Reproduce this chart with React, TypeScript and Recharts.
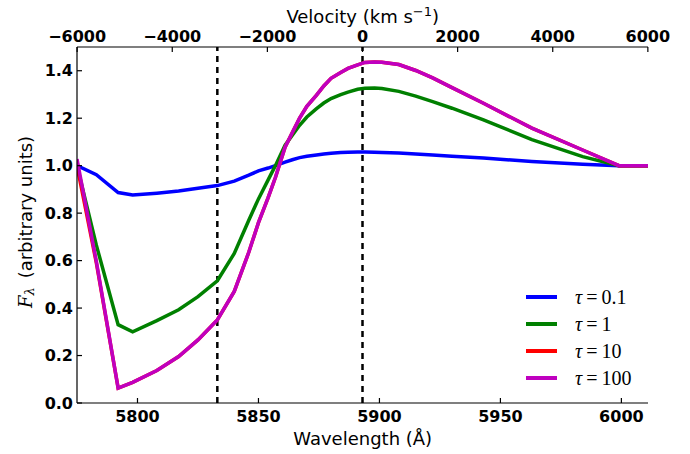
import React from 'react';
import { LineChart, Line, XAxis, YAxis, ReferenceLine, Legend } from 'recharts';

// Wavelength grid (Angstrom)
const wavelength = [5775, 5783, 5792, 5798, 5808, 5817, 5825, 5833, 5840, 5846, 5850, 5854, 5857, 5861, 5864, 5867, 5870, 5874, 5877, 5880, 5884, 5887, 5891, 5894, 5898, 5901, 5908, 5915, 5922, 5930, 5943, 5963, 5984, 5999, 6011];
// Flux for each optical depth
const fluxTau01 = [1.0, 0.962, 0.887, 0.876, 0.884, 0.893, 0.905, 0.916, 0.935, 0.96, 0.978, 0.99, 1.0, 1.015, 1.025, 1.034, 1.04, 1.045, 1.049, 1.052, 1.055, 1.057, 1.058, 1.058, 1.057, 1.056, 1.053, 1.049, 1.045, 1.04, 1.032, 1.018, 1.006, 1.0, 1.0];
const fluxTau1 = [1.0, 0.665, 0.33, 0.3, 0.347, 0.393, 0.448, 0.515, 0.63, 0.77, 0.86, 0.94, 1.0, 1.086, 1.128, 1.17, 1.205, 1.24, 1.264, 1.283, 1.299, 1.31, 1.322, 1.326, 1.327, 1.325, 1.313, 1.293, 1.27, 1.242, 1.193, 1.11, 1.038, 1.0, 1.0];
const fluxTau10 = [1.0, 0.59, 0.063, 0.087, 0.137, 0.196, 0.266, 0.35, 0.47, 0.635, 0.76, 0.865, 0.95, 1.078, 1.14, 1.2, 1.25, 1.297, 1.336, 1.368, 1.393, 1.41, 1.425, 1.435, 1.437, 1.436, 1.426, 1.401, 1.37, 1.329, 1.263, 1.158, 1.066, 1.0, 1.0];
const fluxTau100 = [1.028, 0.597, 0.063, 0.087, 0.137, 0.196, 0.266, 0.35, 0.47, 0.635, 0.76, 0.865, 0.95, 1.078, 1.14, 1.2, 1.25, 1.297, 1.336, 1.368, 1.393, 1.41, 1.425, 1.435, 1.437, 1.436, 1.426, 1.401, 1.37, 1.329, 1.263, 1.158, 1.066, 1.0, 1.0];

const seriesKeys = ['t01', 't1', 't10', 't100'];
const seriesLabels = ['0.1', '1', '10', '100'];
const seriesColors = ['#0000ff', '#008000', '#ff0000', '#bf00bf'];

const wavelengthTicks = [5800, 5850, 5900, 5950, 6000];
const velocityTicks = [-6000, -4000, -2000, 0, 2000, 4000, 6000];
const fluxTicks = [0, 0.2, 0.4, 0.6, 0.8, 1.0, 1.2, 1.4];
const markerWavelengths = [5833, 5893];
const restWavelength = 5893; // Na I D rest wavelength (A)
const SPEED_OF_LIGHT = 299792.458; // km/s

// top-axis tick positions: velocity -> wavelength (axis conversion only)
const velocityTickPositions = velocityTicks.map((v) => restWavelength * (1 + v / SPEED_OF_LIGHT));

const rows = wavelength.map((w, i) => ({
  w,
  t01: fluxTau01[i],
  t1: fluxTau1[i],
  t10: fluxTau10[i],
  t100: fluxTau100[i],
}));

const FONT = '"DejaVu Sans", sans-serif';
const TL = 5;
const AX = '#000';

const BottomTick = (props: any) => {
  const { x, y, payload } = props;
  const ay = y - 7;
  return (
    <g>
      <line x1={x} x2={x} y1={ay} y2={ay - TL} stroke={AX} strokeWidth={1.2} />
      <text x={x} y={y} dy="0.72em" textAnchor="middle" fontFamily={FONT} fontWeight="bold" fontSize={16} fill="#000">
        {payload.value}
      </text>
    </g>
  );
};

const TopTick = (props: any) => {
  const { x, y, payload } = props;
  const ay = y + 5;
  const v = Math.round(((payload.value / restWavelength - 1) * SPEED_OF_LIGHT) / 1000) * 1000;
  const label = v < 0 ? '\u2212' + Math.abs(v) : String(v);
  return (
    <g>
      <line x1={x} x2={x} y1={ay} y2={ay + TL} stroke={AX} strokeWidth={1.2} />
      <text x={x} y={y} textAnchor="middle" fontFamily={FONT} fontWeight="bold" fontSize={16} fill="#000">
        {label}
      </text>
    </g>
  );
};

const LeftTick = (props: any) => {
  const { x, y, payload } = props;
  const ax = x + 4;
  return (
    <g>
      <line x1={ax} x2={ax + TL} y1={y} y2={y} stroke={AX} strokeWidth={1.2} />
      <text x={x} y={y} dy="0.36em" textAnchor="end" fontFamily={FONT} fontWeight="bold" fontSize={16} fill="#000">
        {Number(payload.value).toFixed(1)}
      </text>
    </g>
  );
};

const RightTick = (props: any) => {
  const { x, y } = props;
  return <line x1={x} x2={x - TL} y1={y} y2={y} stroke={AX} strokeWidth={1.2} />;
};

const renderLegend = () => (
  <div style={{ display: 'flex', flexDirection: 'column' }}>
    {seriesLabels.map((lab, i) => (
      <div key={lab} style={{ display: 'flex', alignItems: 'center', height: 27.2 }}>
        <span style={{ display: 'inline-block', width: 31, height: 4, background: seriesColors[i], marginLeft: 4 }} />
        <span style={{ marginLeft: 18, fontFamily: '"Liberation Serif", serif', fontSize: 20, color: '#000', lineHeight: '20px' }}>
          <i>τ</i>{'\u2009=\u2009'}{lab}
        </span>
      </div>
    ))}
  </div>
);

export default function App() {
  return (
    <div style={{ position: 'absolute', left: 0, top: 0, width: 690, height: 454, background: '#fff' }}>
      <LineChart width={690} height={454} data={rows} margin={{ top: 0, right: 42, bottom: 0, left: 0 }}>
        <XAxis
          dataKey="w"
          type="number"
          domain={[5775, 6011]}
          allowDataOverflow
          ticks={wavelengthTicks}
          height={51}
          tickSize={0}
          tickMargin={7}
          tickLine={false}
          tick={<BottomTick />}
          axisLine={{ stroke: AX, strokeWidth: 1.2 }}
          label={{
            content: () => (
              <text x={362.7} y={445} textAnchor="middle" fontFamily={FONT} fontSize={18} fill="#000">
                Wavelength (Å)
              </text>
            ),
          }}
        />
        <XAxis
          xAxisId="vel"
          dataKey="w"
          orientation="top"
          type="number"
          domain={[5775, 6011]}
          allowDataOverflow
          ticks={velocityTickPositions}
          interval={0}
          height={47}
          tickSize={0}
          tickMargin={5}
          tickLine={false}
          tick={<TopTick />}
          axisLine={{ stroke: AX, strokeWidth: 1.2 }}
          label={{
            content: () => (
              <text x={362.7} y={23} textAnchor="middle" fontFamily={FONT} fontSize={18} fill="#000">
                <tspan>Velocity (km s</tspan>
                <tspan dy={-7} fontSize={13}>{'\u22121'}</tspan>
                <tspan dy={7}>)</tspan>
              </text>
            ),
          }}
        />
        <YAxis
          type="number"
          domain={[0, 1.5]}
          allowDataOverflow
          ticks={fluxTicks}
          width={77}
          tickSize={0}
          tickMargin={4}
          tickLine={false}
          tick={<LeftTick />}
          axisLine={{ stroke: AX, strokeWidth: 1.2 }}
          label={{
            content: () => (
              <text x={25} y={222} transform="rotate(-90 25 222)" textAnchor="middle" dominantBaseline="central" fontFamily={FONT} fontSize={18} fill="#000">
                <tspan fontFamily='"DejaVu Serif", serif' fontStyle="italic">F</tspan>
                <tspan dy={4} fontSize={13} fontFamily='"DejaVu Serif", serif' fontStyle="italic">λ</tspan>
                <tspan dy={-4}>{'\u2002(arbitrary units)'}</tspan>
              </text>
            ),
          }}
        />
        <YAxis
          yAxisId="r"
          orientation="right"
          type="number"
          domain={[0, 1.5]}
          allowDataOverflow
          ticks={fluxTicks}
          width={0}
          tickSize={0}
          tickMargin={0}
          tickLine={false}
          tick={<RightTick />}
          axisLine={{ stroke: AX, strokeWidth: 1.2 }}
        />
        {markerWavelengths.map((m) => (
          <ReferenceLine key={m} x={m} stroke="#000" strokeWidth={2.5} strokeDasharray="6 5" />
        ))}
        {seriesKeys.map((k, i) => (
          <Line
            key={k}
            dataKey={k}
            type="linear"
            stroke={seriesColors[i]}
            strokeWidth={3.5}
            dot={false}
            activeDot={false}
            isAnimationActive={false}
          />
        ))}
        <Legend
          layout="vertical"
          align="center"
          verticalAlign="middle"
          content={renderLegend}
          wrapperStyle={{ position: 'absolute', left: 522, top: 283, width: 130, height: 110 }}
        />
      </LineChart>
    </div>
  );
}
